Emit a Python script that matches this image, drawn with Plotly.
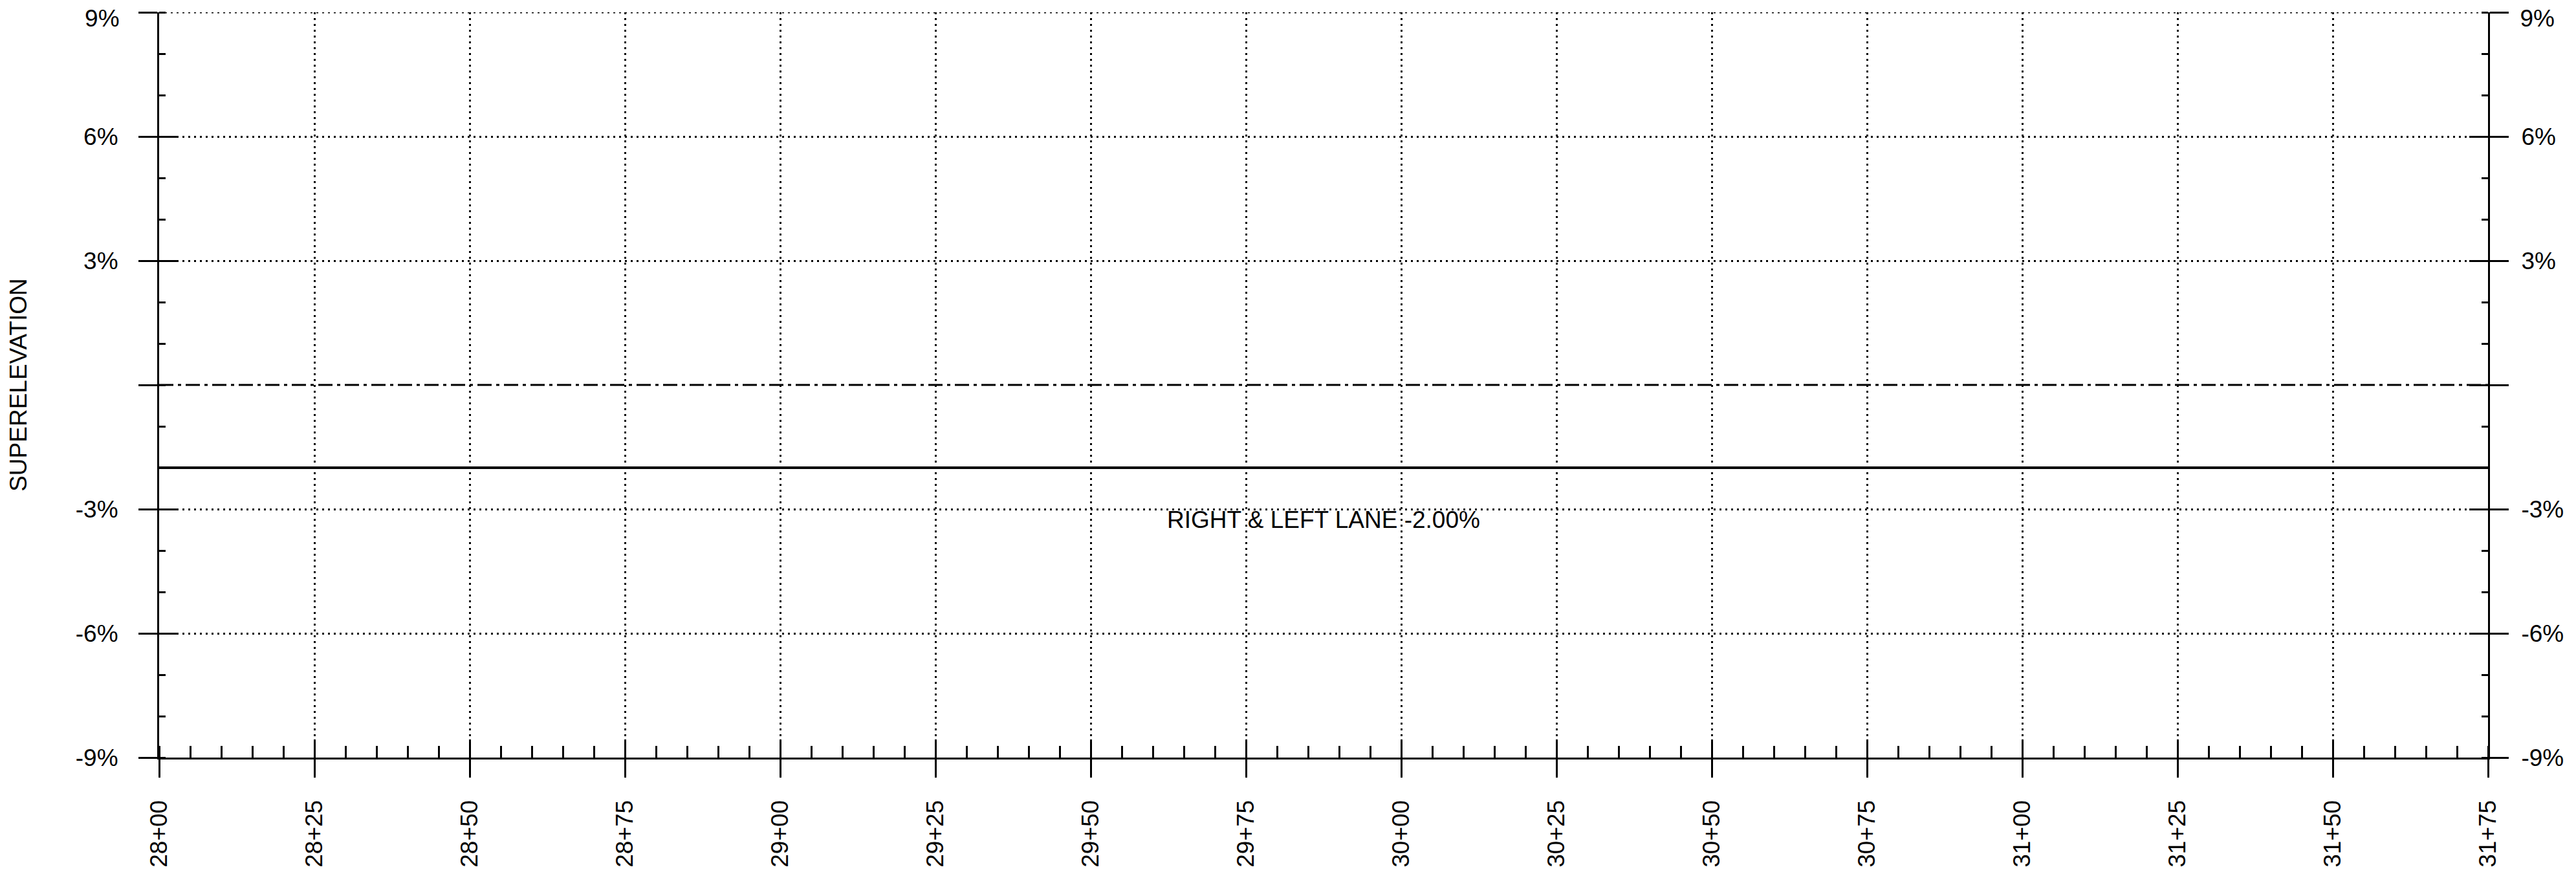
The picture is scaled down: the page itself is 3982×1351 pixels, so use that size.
import plotly.graph_objects as go

# ---- data ----
stations = [2800, 3175]                 # station range (28+00 .. 31+75)
lane_slope = [-2.0, -2.0]               # right & left lane superelevation (%)
crown_line = [0.0, 0.0]                 # 0% reference line
x_tick_vals = [2800, 2825, 2850, 2875, 2900, 2925, 2950, 2975,
               3000, 3025, 3050, 3075, 3100, 3125, 3150, 3175]
x_tick_text = ["28+00", "28+25", "28+50", "28+75", "29+00", "29+25", "29+50", "29+75",
               "30+00", "30+25", "30+50", "30+75", "31+00", "31+25", "31+50", "31+75"]
y_tick_vals = [-9, -6, -3, 0, 3, 6, 9]
y_tick_text = ["-9%", "-6%", "-3%", "", "3%", "6%", "9%"]
y_grid_vals = [-9, -6, -3, 3, 6, 9]
lane_label = "RIGHT & LEFT LANE -2.00%"
lane_label_y = -3.25
y_title = "SUPERELEVATION"

FONT = "Liberation Sans, Arial, sans-serif"
FS = 37
BLACK = "#000000"
CLEAR = "rgba(0,0,0,0)"
LW = 3
DOT = "3px,6px"

x_range = [stations[0], stations[-1]]
y_range = [min(y_tick_vals), max(y_tick_vals)]

# the top label is nudged down to stay inside the page (as in the reference)
main_text = y_tick_text[:-1] + [""]
top_val = [y_tick_vals[-1]]
top_text = [y_tick_text[-1]]

fig = go.Figure()
fig.add_trace(go.Scatter(x=stations, y=crown_line, mode="lines",
                         line=dict(color=BLACK, width=LW, dash="22px,7px,5px,7px"),
                         hoverinfo="skip", showlegend=False))
fig.add_trace(go.Scatter(x=stations, y=lane_slope, mode="lines",
                         line=dict(color=BLACK, width=4),
                         hoverinfo="skip", showlegend=False))

fig.add_annotation(x=(stations[0] + stations[-1]) / 2, y=lane_label_y,
                   text=lane_label, showarrow=False,
                   font=dict(family=FONT, size=FS, color=BLACK),
                   xanchor="center", yanchor="middle")

# dotted grid line along the top edge of the plot
fig.add_shape(type="line", xref="x", yref="y",
              x0=x_range[0], x1=x_range[1], y0=y_range[1], y1=y_range[1],
              line=dict(color=BLACK, width=LW, dash=DOT), layer="below")

common_tick = dict(tickcolor=BLACK, tickwidth=LW)
tfont = dict(family=FONT, size=FS, color=BLACK)

fig.update_layout(
    width=3982, height=1351,
    margin=dict(l=238, r=144, t=11, b=188, pad=0, autoexpand=False),
    paper_bgcolor="white", plot_bgcolor="white",
    font=tfont,
    showlegend=False,
    xaxis=dict(
        range=x_range, tickmode="array", tickvals=x_tick_vals, ticktext=x_tick_text,
        tickangle=-90, ticks="outside", ticklen=28, **common_tick,
        showline=True, linecolor=BLACK, linewidth=LW, automargin=False,
        showgrid=True, gridcolor=BLACK, gridwidth=LW, griddash=DOT,
        zeroline=False, tickfont=tfont,
        ticklabelstandoff=20, ticklabeloverflow="allow",
        minor=dict(ticks="inside", ticklen=18, tickwidth=LW, tickcolor=BLACK,
                   tick0=stations[0], dtick=5, showgrid=False),
    ),
    xaxis2=dict(
        range=x_range, overlaying="x", anchor="y", side="bottom", automargin=False,
        tickmode="array", tickvals=x_tick_vals, ticks="inside", ticklen=28, **common_tick,
        showticklabels=False, showgrid=False, showline=False, zeroline=False,
    ),
    yaxis=dict(
        range=y_range, tickmode="array", tickvals=y_tick_vals, ticktext=main_text,
        ticks="outside", ticklen=29, **common_tick,
        showline=True, linecolor=BLACK, linewidth=LW, automargin=False,
        showgrid=False, zeroline=False,
        tickfont=tfont, ticklabelstandoff=24, ticklabeloverflow="allow",
        title=dict(text=y_title, font=tfont, standoff=71),
        minor=dict(ticks="inside", ticklen=10, tickwidth=LW, tickcolor=BLACK,
                   tick0=0, dtick=1, showgrid=False),
    ),
    yaxis2=dict(
        range=y_range, overlaying="y", anchor="x", side="left", automargin=False,
        tickmode="array", tickvals=y_grid_vals, ticks="inside", ticklen=29, **common_tick,
        showticklabels=False, showline=False, zeroline=False,
        showgrid=True, gridcolor=BLACK, gridwidth=LW, griddash=DOT,
    ),
    yaxis3=dict(
        range=y_range, overlaying="y", anchor="x", side="right",
        tickmode="array", tickvals=y_tick_vals, ticktext=main_text,
        ticks="outside", ticklen=29, **common_tick,
        showline=True, linecolor=BLACK, linewidth=LW, automargin=False,
        showgrid=False, zeroline=False,
        tickfont=tfont, ticklabelstandoff=12, ticklabeloverflow="allow",
        minor=dict(ticks="inside", ticklen=10, tickwidth=LW, tickcolor=BLACK,
                   tick0=0, dtick=1, showgrid=False),
    ),
    yaxis4=dict(
        range=y_range, overlaying="y", anchor="x", side="right", automargin=False,
        tickmode="array", tickvals=y_tick_vals, ticks="inside", ticklen=29, **common_tick,
        showticklabels=False, showline=False, zeroline=False, showgrid=False,
    ),
    # top "9%" labels, left and right, shifted slightly down
    yaxis5=dict(
        range=y_range, overlaying="y", anchor="x", side="left", automargin=False,
        tickmode="array", tickvals=top_val, ticktext=top_text,
        ticks="outside", ticklen=29, tickcolor=CLEAR, tickwidth=LW,
        showline=False, zeroline=False, showgrid=False,
        tickfont=tfont, ticklabelstandoff=24, ticklabeloverflow="allow",
        ticklabelshift=9,
    ),
    yaxis6=dict(
        range=y_range, overlaying="y", anchor="x", side="right", automargin=False,
        tickmode="array", tickvals=top_val, ticktext=top_text,
        ticks="outside", ticklen=29, tickcolor=CLEAR, tickwidth=LW,
        showline=False, zeroline=False, showgrid=False,
        tickfont=tfont, ticklabelstandoff=12, ticklabeloverflow="allow",
        ticklabelshift=9,
    ),
)

# invisible traces so the overlay axes render
for xa, ya in [("x2", "y"), ("x", "y2"), ("x", "y3"), ("x", "y4"), ("x", "y5"), ("x", "y6")]:
    fig.add_trace(go.Scatter(x=stations, y=lane_slope, xaxis=xa, yaxis=ya, mode="lines",
                             line=dict(width=0), opacity=0, hoverinfo="skip",
                             showlegend=False))

fig.write_html("out.html")
